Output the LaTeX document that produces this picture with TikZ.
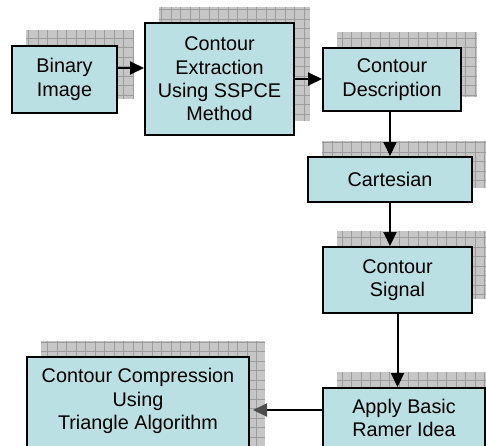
\documentclass[tikz,border=0pt]{standalone}
\usepackage{fontspec}
\setmainfont{Liberation Sans}
\usetikzlibrary{arrows.meta,backgrounds}
\definecolor{boxcyan}{HTML}{BBE0E3}
\definecolor{shadowgray}{HTML}{C6C6C6}
\definecolor{gridgray}{HTML}{9C9C9C}
\tikzset{
    blockbox/.style={draw=black, line width=2pt, fill=boxcyan, align=center,
        inner sep=0pt, font=\fontsize{19.8}{23.3}\selectfont},
    flow/.style={-{Triangle[length=14pt,width=13pt]}, line width=2pt},
}
\begin{document}
\begin{tikzpicture}[x=1pt,y=-1pt]
        \useasboundingbox (0,0) rectangle (486,445);
        \clip (0,0) rectangle (486,445);
        %% Blocks
        \node[blockbox, minimum width=105pt, minimum height=67pt] (bin) at (64.5,79.5) {Binary\\Image};
        \node[blockbox, minimum width=149pt, minimum height=112pt] (ext) at (219.5,79) {Contour\\Extraction\\Using SSPCE\\Method};
        \node[blockbox, minimum width=138pt, minimum height=63pt] (desc) at (392,79.5) {Contour\\Description};
        \node[blockbox, minimum width=164pt, minimum height=45pt] (cart) at (390,179.5) {Cartesian};
        \node[blockbox, minimum width=149pt, minimum height=66pt] (sig) at (397.5,280) {Contour\\Signal};
        \node[blockbox, minimum width=162pt, minimum height=60pt] (ramer) at (404,418) {Apply Basic\\Ramer Idea};
        \node[blockbox, minimum width=222pt, minimum height=110pt, text depth=26pt] (comp) at (138,412) {Contour Compression\\Using\\Triangle Algorithm};
        %% Shadows
        \begin{scope}[on background layer]
            \foreach \n in {bin,ext,desc,cart,sig,ramer,comp} {
                \fill[shadowgray] ([shift={(15pt,15pt)}]\n.south west) rectangle ([shift={(15pt,15pt)}]\n.north east);
                \draw[gridgray, line width=0.6pt, step=9.5pt] ([shift={(15pt,15pt)}]\n.south west) grid ([shift={(15pt,15pt)}]\n.north east);
            }
        \end{scope}
        %% Connectors
        \draw[flow] ([yshift=11.5pt]bin.east) -- ([yshift=11.5pt]bin.east -| ext.west);
        \draw[flow] (ext.east) -- (ext.east -| desc.west);
        \draw[flow] (cart.north |- desc.south) -- (cart.north);
        \draw[flow] (cart.south) -- (cart.south |- sig.north);
        \draw[flow] (sig.south) -- (sig.south |- ramer.north);
        \draw[-{Triangle[length=14pt,width=13pt,color=black!70]}, line width=2pt] ([yshift=8pt]ramer.west) -- ([yshift=8pt,xshift=3pt]ramer.west -| comp.east);
\end{tikzpicture}
\end{document}
